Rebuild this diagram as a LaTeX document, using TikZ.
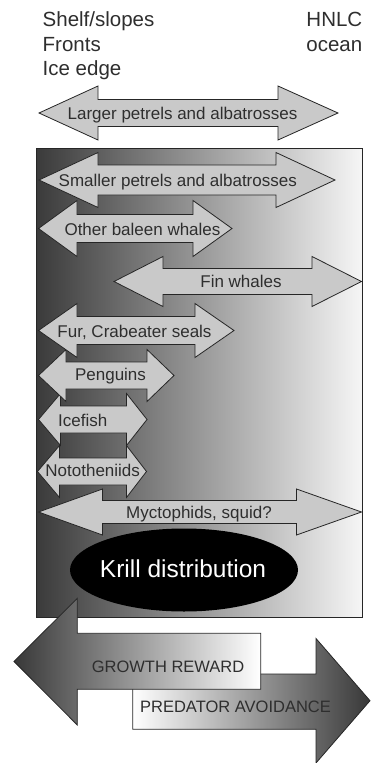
\documentclass[tikz,border=0pt]{standalone}
\usepackage{fontspec}
\setmainfont{Liberation Sans}
\definecolor{afill}{gray}{0.79}
\definecolor{edge}{gray}{0.15}
\definecolor{boxdark}{gray}{0.23}
\definecolor{boxmid}{gray}{0.62}
\definecolor{boxlight}{gray}{0.965}
\definecolor{bigdark}{gray}{0.22}
\definecolor{txt}{gray}{0.18}
\newcommand\dblarrow[7]{%
  \draw[arrowshape] (#1,#5) -- (#2,#5-#6) -- (#2,#5-#7) -- (#3,#5-#7) -- (#3,#5-#6)
    -- (#4,#5) -- (#3,#5+#6) -- (#3,#5+#7) -- (#2,#5+#7) -- (#2,#5+#6) -- cycle;}
\begin{document}
\begin{tikzpicture}[x=1pt,y=-1pt,
  arrowshape/.style={fill=afill, draw=edge, line width=0.8pt, line join=miter},
  lab/.style={anchor=base, inner sep=0pt, text=txt, font=\fontsize{17}{20}\selectfont},
  toplab/.style={inner sep=0pt, text=txt, font=\fontsize{20.5}{24}\selectfont},
  biglab/.style={anchor=base, inner sep=0pt, text=txt, font=\fontsize{16.5}{20}\selectfont}]
\useasboundingbox (0,0) rectangle (371,763);

% top labels
\node[toplab, anchor=base west] (shelf) at (42.5,26.7) {Shelf/slopes};
\node[toplab, anchor=base west] (fronts) at (42.5,51.3) {Fronts};
\node[toplab, anchor=base west] (ice) at (42.5,75.5) {Ice edge};
\node[toplab, anchor=base east] (hnlc) at (362.5,26.7) {HNLC};
\node[toplab, anchor=base east] (ocean) at (362.5,51.5) {ocean};

% larger petrels (outside box)
\dblarrow{39}{98}{278}{338}{113}{27}{13.5}
\node[lab] (larger) at (182.5,119) {Larger petrels and albatrosses};

% gradient box
\shade[left color=boxdark, middle color=boxmid, right color=boxlight] (36.5,148.5) rectangle (362.5,617);
\draw[edge, line width=0.8pt] (36.5,148.5) rectangle (362.5,617);

% arrows inside box (lower ones first)
\dblarrow{38.5}{102.5}{296.5}{361.5}{512}{23}{11.5}
\node[lab] (myct) at (199,518) {Myctophids, squid?};
\dblarrow{37.5}{59.5}{126.5}{146.5}{471.5}{26}{13.5}
\node[lab] (noto) at (92.7,476.5) {Nototheniids};
\dblarrow{38.5}{60.5}{126.5}{147}{419.5}{26}{13.5}
\node[lab] (icefish) at (82.8,426.5) {Icefish};
\dblarrow{38.5}{66}{147}{174}{375.5}{26}{13.5}
\node[lab] (peng) at (110.5,380) {Penguins};
\dblarrow{38.5}{77}{195}{234}{330.5}{27}{14}
\node[lab] (fur) at (134.5,337) {Fur, Crabeater seals};
\dblarrow{114}{163}{312}{361.5}{281.5}{25}{13}
\node[lab] (fin) at (241,287) {Fin whales};
\dblarrow{38.5}{77}{193}{232}{228.5}{28}{14}
\node[lab] (baleen) at (142.5,235) {Other baleen whales};
\dblarrow{39}{98}{276}{335}{180}{27.5}{15}
\node[lab] (smaller) at (177.8,186) {Smaller petrels and albatrosses};

% krill
\fill[black] (184,570) ellipse [x radius=114pt, y radius=41.5pt];
\node[anchor=base, inner sep=0pt, text=white, font=\fontsize{24.5}{28}\selectfont] (krill) at (183,577) {Krill distribution};

% bottom arrows
\shadedraw[left color=white, right color=bigdark, draw=edge, line width=0.8pt]
  (132.7,674) -- (316,674) -- (316,638.5) -- (370,700.7) -- (316,763) -- (316,729.3) -- (132.7,729.3) -- cycle;
\shadedraw[left color=bigdark, right color=white, draw=edge, line width=0.8pt]
  (14,661.5) -- (77.3,598.3) -- (77.3,633.3) -- (260.7,633.3) -- (260.7,689.3) -- (77.3,689.3) -- (77.3,725) -- cycle;
\node[biglab] (growth) at (168,672) {GROWTH REWARD};
\node[biglab] (pred) at (235.5,712) {PREDATOR AVOIDANCE};
\end{tikzpicture}
\end{document}
